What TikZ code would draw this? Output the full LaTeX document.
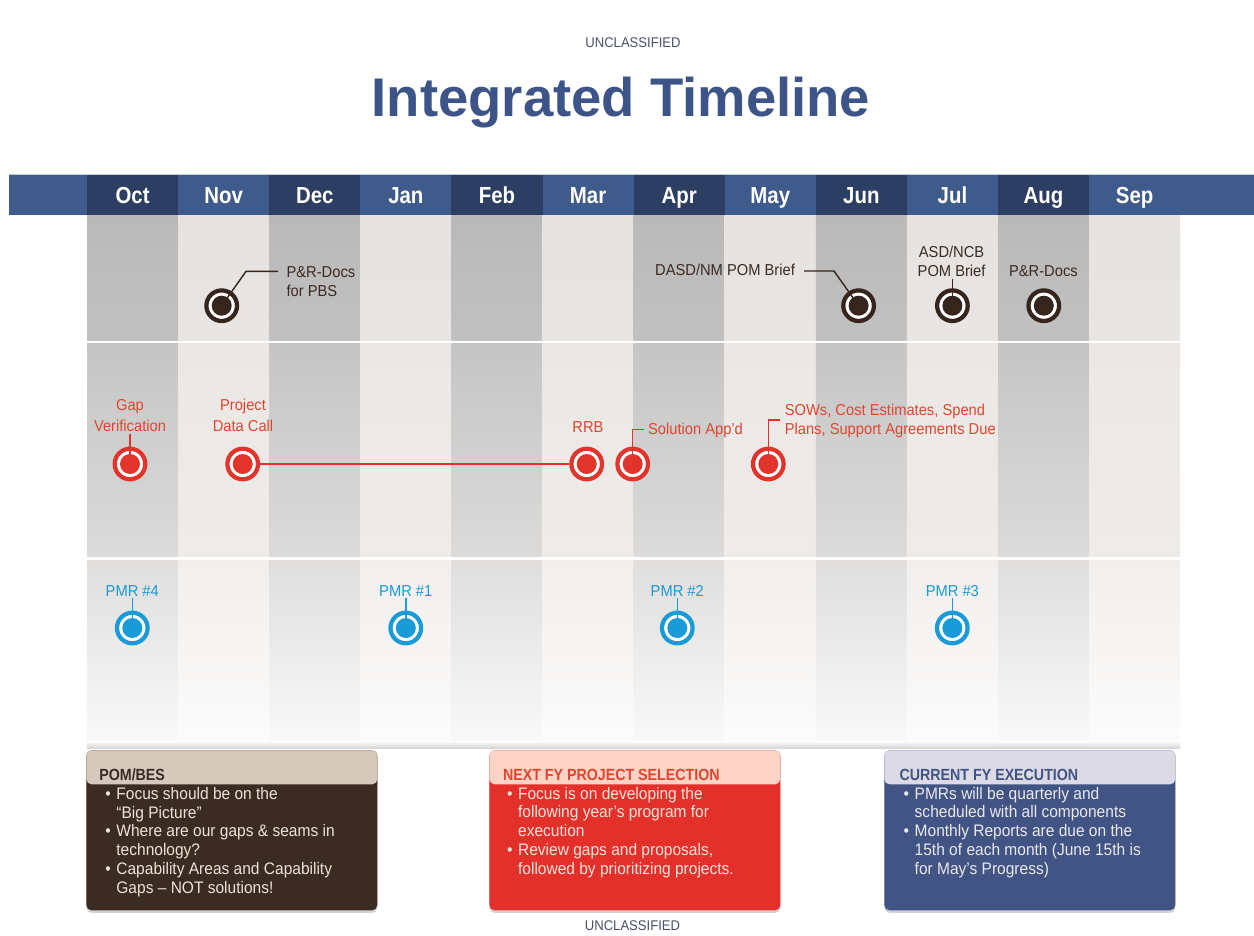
\documentclass[tikz,border=0pt]{standalone}
\usepackage{fontspec}
\setmainfont[FakeStretch=0.93]{Liberation Sans}
\newfontfamily\headfont[FakeStretch=0.88]{Liberation Sans}
\newfontfamily\titlefont{Liberation Sans}
\usetikzlibrary{shadows}

\definecolor{hdrdk}{HTML}{2D3E63}
\definecolor{hdrlt}{HTML}{3F5B8B}
\definecolor{titleblue}{HTML}{3D5488}
\definecolor{unclass}{HTML}{4A5068}
\definecolor{evbrown}{HTML}{35251C}
\definecolor{txtbrown}{HTML}{3A2B22}
\definecolor{evred}{HTML}{E2342A}
\definecolor{txtred}{HTML}{E0462F}
\definecolor{evblue}{HTML}{1A9AD6}
\definecolor{boxbrown}{HTML}{3C2B20}
\definecolor{bandbrown}{HTML}{D6C8BB}
\definecolor{boxred}{HTML}{E3302A}
\definecolor{bandred}{HTML}{FCD3C4}
\definecolor{boxnavy}{HTML}{415483}
\definecolor{bandnavy}{HTML}{DCDAE7}
% stripe tones, dk/lt, top/bottom
\definecolor{r1dkt}{HTML}{B9B9B9}\definecolor{r1dkb}{HTML}{C1C1C1}
\definecolor{r1ltt}{HTML}{E5E2DF}\definecolor{r1ltb}{HTML}{E8E5E2}
\definecolor{r2dkt}{HTML}{C5C5C5}\definecolor{r2dkb}{HTML}{DCDBDA}
\definecolor{r2ltt}{HTML}{EAE7E4}\definecolor{r2ltb}{HTML}{EEEBE8}
\definecolor{r3dkt}{HTML}{DFDEDD}\definecolor{r3dkb}{HTML}{FAFAFA}
\definecolor{r3ltt}{HTML}{F1EFED}\definecolor{r3ltb}{HTML}{FCFCFC}

\newcommand\bitem{\makebox[6.3pt][l]{\textbullet}}
\newcommand\bcont{\hspace*{6.3pt}}

\begin{document}
\begin{tikzpicture}[x=0.02cm, y=-0.02cm,
    event/.style={circle, draw=#1, fill=white, line width=0.085cm, minimum size=0.612cm, inner sep=0pt,
        path picture={\fill[#1] (path picture bounding box.center) circle [radius=0.2cm];}},
    lbl/.style={font=\fontsize{9}{10.8}\selectfont, text=#1, inner sep=1pt, align=center},
    lead/.style={draw=#1, line width=0.8pt},
    month/.style={font=\headfont\bfseries\fontsize{13.2}{15}\selectfont, text=white, anchor=base},
    infobox/.style 2 args={rectangle, rounded corners=3pt, fill=#1, minimum width=5.82cm, minimum height=3.2cm,
        anchor=north west, inner sep=0pt, drop shadow={opacity=0.35, shadow xshift=0pt, shadow yshift=-1.5pt},
        path picture={\fill[#2] (path picture bounding box.north west) rectangle ([yshift=-0.68cm]path picture bounding box.north east);}},
    boxhead/.style={font=\headfont\bfseries\fontsize{9.2}{10}\selectfont, text=#1, anchor=base west, inner sep=0pt},
    boxtext/.style={font=\fontsize{9.5}{10.7}\selectfont, text=#1, align=left, anchor=base west, inner sep=0pt}
  ]
  \useasboundingbox (0,0) rectangle (1254,936);
  \fill[white] (0,0) rectangle (1254,936);

  % header text
  \node[font=\fontsize{8}{9}\selectfont, text=unclass, anchor=base] (topmark) at (633,48) {UNCLASSIFIED};
  \node[font=\titlefont\bfseries\fontsize{31}{34}\selectfont, text=titleblue, anchor=base] (title) at (621,116.5) {Integrated Timeline};

  % month bar and stripes
  \fill[hdrlt] (9,174) rectangle (87,215);
  \fill[hdrlt] (1180,174) rectangle (1254,215);
  \foreach \i/\m in {0/Oct,1/Nov,2/Dec,3/Jan,4/Feb,5/Mar,6/Apr,7/May,8/Jun,9/Jul,10/Aug,11/Sep} {
    \pgfmathsetmacro\xa{87+91.1*\i}
    \pgfmathsetmacro\xb{87+91.1*(\i+1)}
    \ifodd\i \def\tn{lt}\else\def\tn{dk}\fi
    \fill[fill=hdr\tn] (\xa,174) rectangle (\xb,215);
    \shade[top color=r1\tn t, bottom color=r1\tn b] (\xa,215) rectangle (\xb,340);
    \shade[top color=r2\tn t, bottom color=r2\tn b] (\xa,343) rectangle (\xb,556);
    \shade[top color=r3\tn t, bottom color=r3\tn b] (\xa,560) rectangle (\xb,749);
    \node[month] (m\i) at ({(\xa+\xb)/2},203) {\m};
  }
  \draw[white!70!hdrlt, line width=0.6pt] (9,174.5) -- (1254,174.5);
  \shade[top color=white, bottom color=black!22, opacity=0.8] (87,741) rectangle (1180,749);
  \fill[white] (87,749) rectangle (1180,784);

  % PBS row
  \node[event=evbrown] (prdocs) at (221.7,305.7) {};
  \node[event=evbrown] (jun) at (858.6,305.7) {};
  \node[event=evbrown] (jul) at (952.4,305.7) {};
  \node[event=evbrown] (aug) at (1043.8,305.7) {};
  \node[lbl=txtbrown, align=left, anchor=base west] (pbsl) at (284.5,296) {P\&R-Docs\\for PBS};
  \node[lbl=txtbrown, anchor=base east] (dasdl) at (797,275) {DASD/NM POM Brief};
  \node[lbl=txtbrown, anchor=base] (asdl) at (951.6,276.7) {ASD/NCB\\POM Brief};
  \node[lbl=txtbrown, anchor=base] (augl) at (1043.4,276.7) {P\&R-Docs};
  \coordinate (pbsend) at (278,271.4);
  \coordinate (dasdend) at (804,271);
  \draw[lead=evbrown] (prdocs.center) -- (246,271.4) -- (pbsend);
  \draw[lead=evbrown] (jun.center) -- (834,271) -- (dasdend);
  \draw[lead=evbrown] (jul.center) -- (jul.center |- asdl.south);

  % project row
  \node[event=evred] (gap) at (130,464) {};
  \node[event=evred] (proj) at (242.7,464) {};
  \node[event=evred] (rrb) at (586.7,464) {};
  \node[event=evred] (sol) at (632.7,464) {};
  \node[event=evred] (sow) at (768.3,464) {};
  \draw[evred, line width=0.04cm] (proj) -- (rrb);
  \node[lbl=txtred, anchor=base, font=\fontsize{9}{12}\selectfont] (gapl) at (130,431.7) {Gap\\Verification};
  \node[lbl=txtred, anchor=base, font=\fontsize{9}{12}\selectfont] (projl) at (243,431.7) {Project\\Data Call};
  \node[lbl=txtred, anchor=base] (rrbl) at (588,432) {RRB};
  \node[lbl=txtred, anchor=base west] (soll) at (646,434) {Solution App’d};
  \node[lbl=txtred, align=left, anchor=base west] (sowl) at (782.7,434.3) {SOWs, Cost Estimates, Spend\\Plans, Support Agreements Due};
  \coordinate (solend) at (644,429.3);
  \coordinate (sowend) at (780,420);
  \draw[lead=evred] (gap.center) -- (gap.center |- gapl.south);
  \draw[lead=evred] (sol.center) |- (solend);
  \draw[lead=evred] (sow.center) |- (sowend);

  % PMR row
  \foreach \k/\x/\n in {4/132.3/4,1/405.8/1,2/677.3/2,3/952.3/3} {
    \node[event=evblue] (pmr\k) at (\x,628) {};
    \node[lbl=evblue, anchor=base] (pmrl\k) at (\x,596) {PMR \#\n};
    \draw[lead=evblue] (pmr\k.center) -- (pmr\k.center |- pmrl\k.south);
  }

  % info boxes
  \node[infobox={boxbrown}{bandbrown}] (pom) at (86,750) {};
  \node[infobox={boxred}{bandred}] (next) at (489,750) {};
  \node[infobox={boxnavy}{bandnavy}] (curr) at (884,750) {};

  \node[boxhead=boxbrown] (pomhead) at (99,780) {POM/BES};
  \node[boxtext=bandbrown!50!white] (pomtext) at (105,893.3) {\bitem Focus should be on the\\
    \bcont “Big Picture”\\
    \bitem Where are our gaps \& seams in\\
    \bcont technology?\\
    \bitem Capability Areas and Capability\\
    \bcont Gaps – NOT solutions!};

  \node[boxhead=txtred] (nexthead) at (502.7,780) {NEXT FY PROJECT SELECTION};
  \node[boxtext=bandred!60!white] (nexttext) at (506.7,874.2) {\bitem Focus is on developing the\\
    \bcont following year’s program for\\
    \bcont execution\\
    \bitem Review gaps and proposals,\\
    \bcont followed by prioritizing projects.};

  \node[boxhead=boxnavy] (currhead) at (899.3,780) {CURRENT FY EXECUTION};
  \node[boxtext=bandnavy!60!white] (currtext) at (903.3,874.2) {\bitem PMRs will be quarterly and\\
    \bcont scheduled with all components\\
    \bitem Monthly Reports are due on the\\
    \bcont 15th of each month (June 15th is\\
    \bcont for May’s Progress)};

  \node[font=\fontsize{8}{9}\selectfont, text=unclass, anchor=base] (botmark) at (632.5,930) {UNCLASSIFIED};
\end{tikzpicture}
\end{document}
